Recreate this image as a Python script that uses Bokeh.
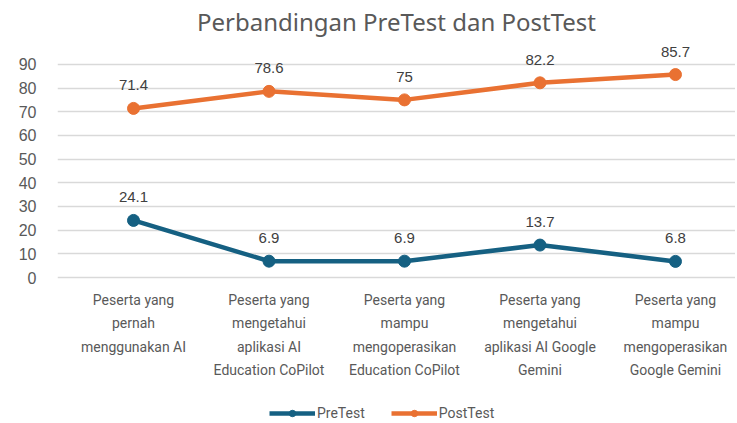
from bokeh.plotting import figure
from bokeh.models import (Range1d, FixedTicker, Legend, LegendItem, ColumnDataSource, LabelSet)
from bokeh.core.properties import value
from bokeh.embed import file_html
from bokeh.resources import INLINE

categories = [
    "Peserta yang\npernah\nmenggunakan AI",
    "Peserta yang\nmengetahui\naplikasi AI\nEducation CoPilot",
    "Peserta yang\nmampu\nmengoperasikan\nEducation CoPilot",
    "Peserta yang\nmengetahui\naplikasi AI Google\nGemini",
    "Peserta yang\nmampu\nmengoperasikan\nGoogle Gemini",
]
pretest = [24.1, 6.9, 6.9, 13.7, 6.8]
posttest = [71.4, 78.6, 75, 82.2, 85.7]
pre_labels = ["24.1", "6.9", "6.9", "13.7", "6.8"]
post_labels = ["71.4", "78.6", "75", "82.2", "85.7"]
y_ticks = [0, 10, 20, 30, 40, 50, 60, 70, 80, 90]

xs = list(range(len(categories)))
PRE = "#156082"
POST = "#E97132"
CAT_LABEL_Y = -6.0

p = figure(width=735, height=421, output_backend="svg", toolbar_location=None,
           x_range=Range1d(-0.561, 4.443), y_range=Range1d(-60.8, 100.5),
           x_axis_location=None,
           title="Perbandingan PreTest dan PostTest")
p.min_border_left = 57
p.min_border_right = 0
p.min_border_top = 0
p.min_border_bottom = 0
p.outline_line_color = None
p.background_fill_color = "white"

p.title.align = "center"
p.title.text_font = "Noto Sans"
p.title.text_font_size = "24px"
p.title.text_font_style = "normal"
p.title.text_color = "#595959"
p.title.standoff = 4

p.xgrid.grid_line_color = None
p.ygrid.grid_line_color = "#D9D9D9"
p.ygrid.grid_line_width = 1.3
p.ygrid.ticker = FixedTicker(ticks=y_ticks)

p.yaxis.ticker = FixedTicker(ticks=y_ticks)
p.yaxis.axis_line_color = None
p.yaxis.major_tick_line_color = None
p.yaxis.minor_tick_line_color = None
p.yaxis.major_label_text_font = "Liberation Sans"
p.yaxis.major_label_text_font_size = "16px"
p.yaxis.major_label_text_color = "#595959"
p.yaxis.major_label_standoff = 15

src = ColumnDataSource(dict(x=xs, pre=pretest, post=posttest,
                            pre_l=pre_labels, post_l=post_labels,
                            cat=categories, cy=[CAT_LABEL_Y] * len(xs)))

# category labels (x axis)
p.text("x", "cy", text="cat", source=src, text_align="center", text_baseline="top",
       text_font=value("Roboto"), text_font_size="14px", text_color="#595959",
       text_line_height=1.47)

l1 = p.line("x", "pre", source=src, line_color=PRE, line_width=4.5)
m1 = p.scatter("x", "pre", source=src, size=12, fill_color=PRE, line_color=PRE)
l2 = p.line("x", "post", source=src, line_color=POST, line_width=4.5)
m2 = p.scatter("x", "post", source=src, size=12, fill_color=POST, line_color=POST)

for col, lab in (("pre", "pre_l"), ("post", "post_l")):
    ls = LabelSet(x="x", y=col, text=lab, source=src, y_offset=18,
                  text_align="center", text_baseline="bottom",
                  text_font=value("Liberation Sans"), text_font_size="15px",
                  text_color="#404040")
    p.add_layout(ls)

legend = Legend(items=[LegendItem(label="PreTest", renderers=[l1, m1]),
                       LegendItem(label="PostTest", renderers=[l2, m2])],
                orientation="horizontal", location=(212, 0),
                glyph_width=46, glyph_height=16, spacing=26,
                label_text_font="Roboto", label_text_font_size="14px",
                label_text_color="#595959", border_line_color=None,
                background_fill_alpha=0, padding=3, margin=0, label_standoff=2)
p.add_layout(legend, "center")

open("out.html", "w").write(file_html(p, INLINE))
